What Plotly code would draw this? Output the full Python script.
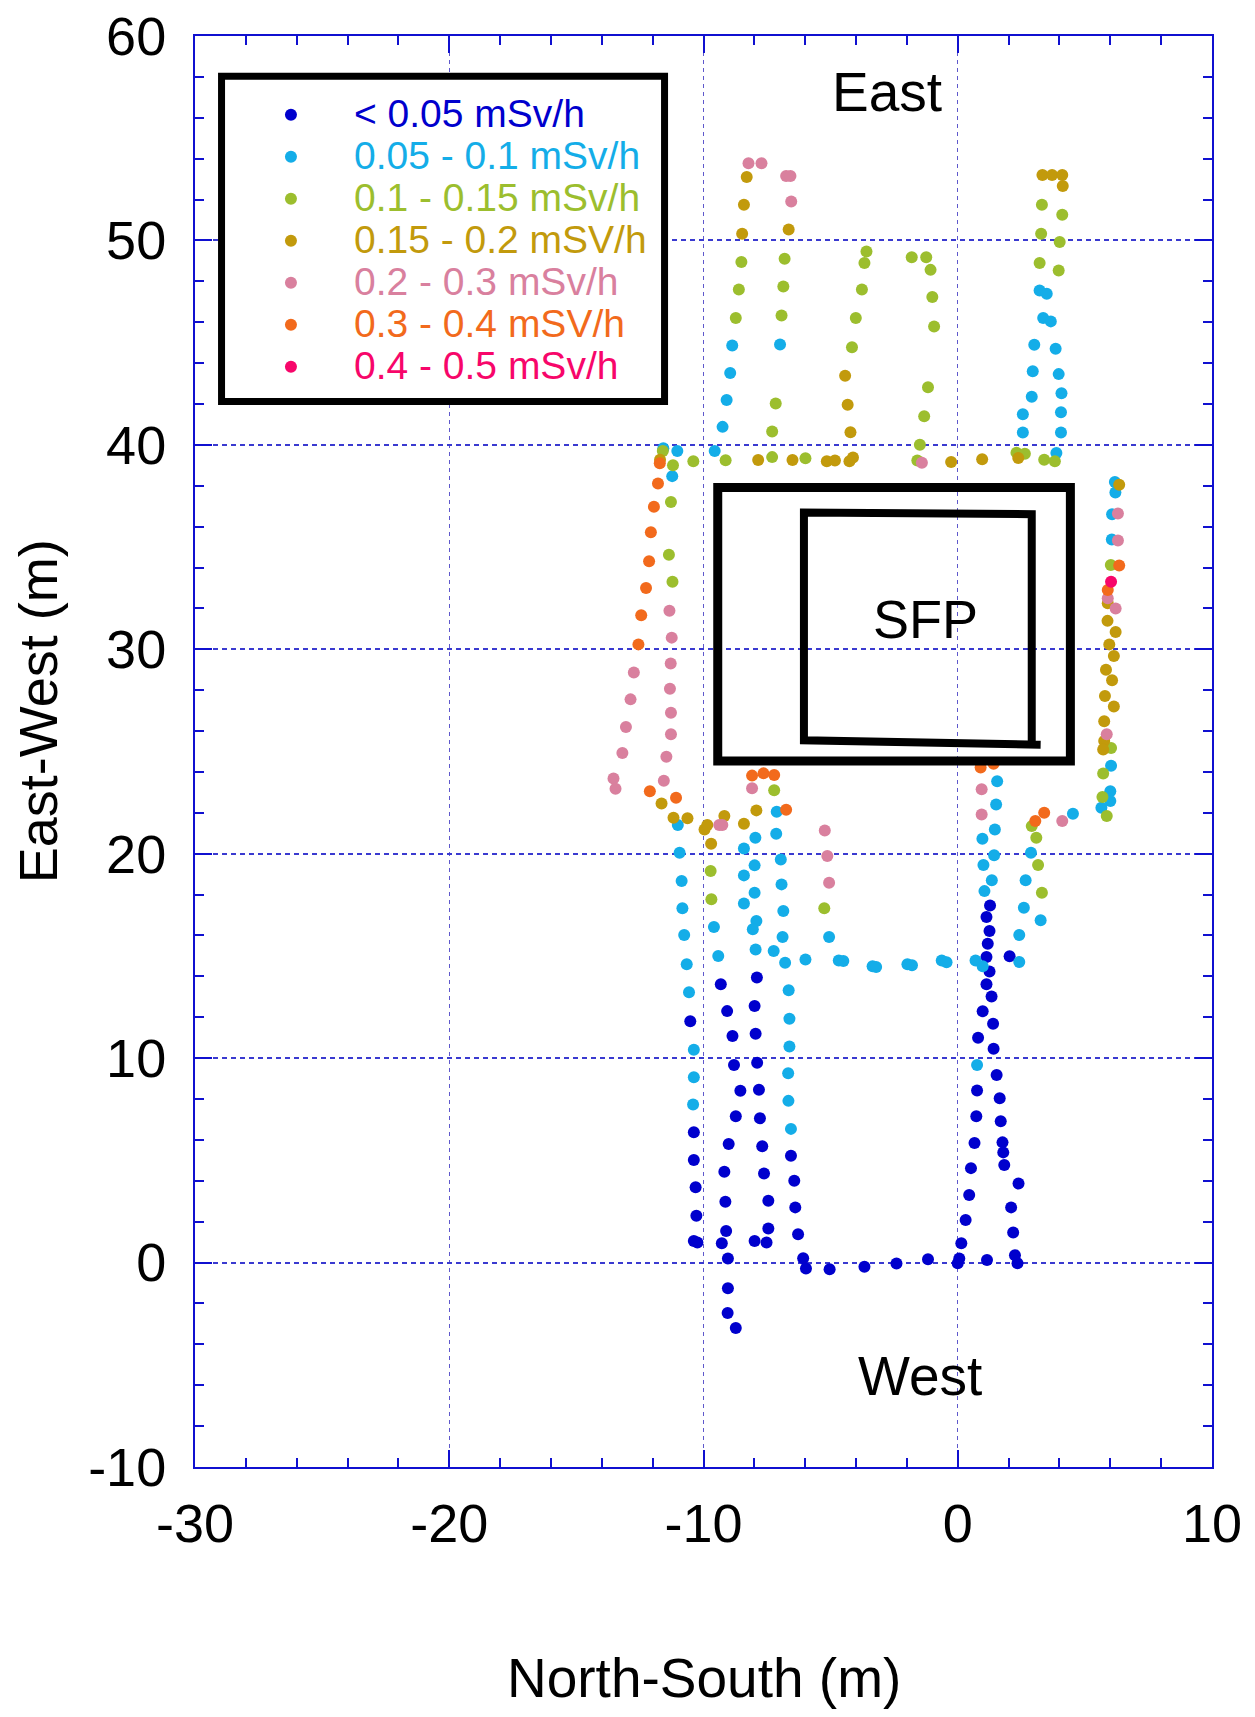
import plotly.graph_objects as go

# ---------------- data (metres) ----------------
CATEGORIES = ["< 0.05 mSv/h", "0.05 - 0.1 mSv/h", "0.1 - 0.15 mSv/h", "0.15 - 0.2 mSV/h",
              "0.2 - 0.3 mSv/h", "0.3 - 0.4 mSV/h", "0.4 - 0.5 mSv/h"]
COLORS = ["#0000CD", "#14ADE8", "#9CBE2E", "#C29A0C", "#D9809E", "#F26A1C", "#F7066A"]

# < 0.05 mSv/h
ns_lt005 = [-10.52, -10.38, -10.38, -10.31, -10.28, -10.38, -10.24,
            -9.32, -9.07, -8.86, -8.80, -8.55, -8.73, -9.01, -9.18, -9.14, -9.11, -9.28, -9.04, -9.04, -9.05, -8.73,
            -7.90, -7.99, -7.95, -7.89, -7.82, -7.78, -7.69, -7.62, -7.45, -7.45, -7.99, -7.52,
            -6.56, -6.43, -6.39, -6.28, -6.08, -5.97, -5.04, -3.67, -2.41, -1.17, 0.00, 0.06, 1.15, 2.25, 2.35,
            0.14, 0.31, 0.45, 0.52, 0.66, 0.73, 0.76, 0.80, 0.98, 1.13, 1.25,
            1.27, 1.13, 1.25, 1.18, 1.13, 2.04, 1.33, 1.39, 1.41, 1.53, 1.65, 1.69, 1.76, 1.79, 1.83, 2.39, 2.10, 2.18]
ew_lt005 = [11.80, 6.37, 5.02, 3.68, 2.29, 1.06, 0.98,
            13.62, 12.30, 11.08, 9.67, 8.41, 7.16, 5.80, 4.44, 2.97, 1.55, 0.95, 0.20, -1.26, -2.47, -3.20,
            13.95, 12.55, 11.19, 9.77, 8.45, 7.06, 5.69, 4.36, 3.02, 1.67, 1.06, 0.98,
            5.23, 4.00, 2.70, 1.39, 0.21, -0.29, -0.33, -0.20, -0.05, 0.16, -0.03, 0.20, 0.13, 0.36, -0.03,
            0.95, 2.08, 3.30, 4.62, 5.85, 7.16, 8.42, 11.00, 12.29, 13.62, 14.24,
            17.47, 16.90, 16.22, 15.60, 14.95, 14.98, 13.02, 11.68, 10.46, 9.18, 8.04, 6.91, 5.88, 5.39, 4.77, 3.87, 2.70, 1.47]

# 0.05 - 0.1 mSv/h
ns_005_01 = [-8.87, -8.95, -9.09, -9.25, -9.56, -6.99,
             3.22, 3.50, 3.36, 3.66, 3.01, 3.85, 2.95, 3.97, 2.91, 4.08, 2.56, 4.06, 2.56, 4.06, 3.88,
             -11.58, -11.03, -11.23,
             6.18, 6.20, 6.07, 6.06, 6.03, 6.00, 5.65, 6.00, 4.53,
             -11.01, -10.94, -10.86, -10.83, -10.76, -10.66, -10.57, -10.38, -10.38, -10.41,
             -9.59, -9.42,
             -7.12, -7.14, -7.96, -8.41, -6.96, -7.99, -8.41, -6.93, -7.99, -8.41, -6.86, -7.92, -8.06, -6.89,
             -7.95, -7.24, -6.79, -5.99, -6.65, -6.62, -6.62, -6.67, -6.66, -6.56,
             -5.06, -4.68, -4.50, -3.35, -3.21, -1.98, -1.80, -0.63, -0.44,
             1.55, 1.51, 1.46, 0.97, 1.43, 1.01, 1.34, 1.05, 0.70, 0.98, 2.42, 0.76,
             3.26, 2.42, 2.60, 2.67, 2.88]
ew_005_01 = [44.86, 43.52, 42.19, 40.88, 39.70, 44.91,
             47.55, 47.39, 46.20, 46.04, 44.90, 44.70, 43.60, 43.46, 42.35, 42.53, 41.50, 41.60, 40.60, 40.60, 39.60,
             39.84, 39.70, 38.47,
             38.18, 37.67, 36.60, 35.37, 24.30, 23.06, 22.25, 22.58, 21.96,
             21.40, 20.05, 18.66, 17.33, 16.02, 14.59, 13.22, 10.41, 9.07, 7.73,
             16.41, 15.00,
             22.05, 20.98, 20.78, 20.26, 19.72, 19.43, 18.94, 18.50, 18.09, 17.57, 17.20, 16.71, 16.30, 15.93,
             15.32, 15.24, 14.67, 14.82, 13.32, 11.93, 10.57, 9.26, 7.91, 6.54,
             15.93, 14.78, 14.75, 14.50, 14.46, 14.59, 14.54, 14.78, 14.69,
             23.55, 22.41, 21.19, 20.73, 19.92, 19.45, 18.70, 18.17, 14.78, 14.50, 14.70, 9.67,
             16.74, 16.02, 17.36, 18.70, 20.05]

# 0.1 - 0.15 mSv/h
ns_01_015 = [-8.51, -8.61, -8.73,
             -6.81, -6.86, -6.93, -7.16, -7.30, -7.30, -9.13, -5.99, -10.40, -11.60, -11.20,
             -3.59, -3.67, -3.77, -4.01, -4.16,
             -1.81, -1.24, -1.07, -1.00, -0.93, -1.17, -1.32, -1.49, -1.59,
             3.31, 4.11, 3.28, 4.01, 3.22, 3.97, 2.31, 2.64, 3.40, 3.82,
             -11.28, -11.36, -11.22,
             6.02, 6.03, 5.72, 5.69, 5.86,
             -7.22, -9.72, -9.69, -5.25, 3.31, 3.16, 3.09, 2.91]
ew_01_015 = [48.94, 47.60, 46.20,
             49.10, 47.75, 46.33, 42.02, 40.65, 39.40, 39.25, 39.35, 39.20, 39.70, 39.00,
             49.46, 48.90, 47.60, 46.20, 44.78,
             49.18, 49.18, 48.56, 47.23, 45.79, 42.82, 41.40, 40.00, 39.23,
             51.75, 51.26, 50.33, 49.92, 48.90, 48.53, 39.62, 39.57, 39.27, 39.20,
             37.20, 34.62, 33.30,
             34.12, 25.17, 23.92, 22.77, 21.84,
             23.10, 19.15, 17.77, 17.33, 18.09, 19.45, 20.78, 21.35]

# 0.15 - 0.2 mSv/h
ns_015_02 = [-8.30, -8.41, -8.48, -6.65, -7.85, -6.50, -5.15, -4.83, -4.26, -4.12, -4.43, -4.33, -4.22,
             -0.26, 0.96, 2.38,
             3.33, 3.71, 4.11, 4.13,
             -11.71,
             6.35, 5.90, 5.89, 6.21, 5.96, 6.14, 5.83, 6.07, 5.79, 6.14, 5.76, 5.76, 5.72,
             -11.65, -11.18, -10.63, -9.96, -9.85, -9.18, -9.70, -8.41, -7.92]
ew_015_02 = [53.10, 51.75, 50.33, 50.54, 39.26, 39.26, 39.20, 39.24, 39.20, 39.38, 43.38, 41.96, 40.62,
             39.16, 39.30, 39.36,
             53.20, 53.20, 53.20, 52.66,
             39.27,
             38.05, 32.25, 31.39, 30.85, 30.24, 29.67, 29.00, 28.48, 27.72, 27.20, 26.48, 25.51, 25.10,
             22.46, 21.76, 21.73, 21.19, 21.40, 21.84, 20.49, 21.47, 22.12]

# 0.2 - 0.3 mSv/h
ns_02_03 = [-8.23, -7.72, -6.75, -6.58, -6.55, -1.41,
            -12.74, -12.87, -13.05, -13.19, -13.54, -13.46,
            -11.34, -11.25, -11.29, -11.32, -11.28, -11.28, -11.46, -11.56,
            -9.38, -9.26, -8.09,
            -5.23, -5.13, -5.06,
            0.94, 0.94, 4.11,
            6.30, 6.30, 5.90, 6.21, 5.86]
ew_02_03 = [53.78, 53.78, 53.15, 53.15, 51.90, 39.12,
            28.86, 27.55, 26.20, 24.93, 23.68, 23.18,
            31.88, 30.57, 29.30, 28.07, 26.90, 25.84, 24.74, 23.57,
            21.40, 21.40, 23.20,
            21.14, 19.89, 18.58,
            23.15, 21.92, 21.60,
            36.64, 35.32, 32.50, 32.00, 25.84]

# 0.3 - 0.4 mSv/h
ns_03_04 = [-11.72, -11.79, -11.95, -12.07, -12.14, -12.26, -12.45, -12.56,
            -12.11, -11.08, -8.09, -7.64, -7.22, -6.75,
            0.90, 1.41, 3.05, 3.40, 6.35, 5.90]
ew_03_04 = [39.10, 38.11, 36.97, 35.73, 34.31, 33.00, 31.66, 30.24,
            23.06, 22.74, 23.82, 23.93, 23.85, 22.15,
            24.22, 24.40, 21.60, 22.00, 34.10, 32.90]

# 0.4 - 0.5 mSv/h
ns_04_05 = [6.03]
ew_04_05 = [33.30]

SERIES_NS = [ns_lt005, ns_005_01, ns_01_015, ns_015_02, ns_02_03, ns_03_04, ns_04_05]
SERIES_EW = [ew_lt005, ew_005_01, ew_01_015, ew_015_02, ew_02_03, ew_03_04, ew_04_05]

# spent fuel pool outlines (data coords)
SFP_OUTER = dict(x0=-9.44, x1=4.43, y0=24.53, y1=37.91)
SFP_INNER_X = [3.26, -6.05, -6.05, 2.91, 2.91]
SFP_INNER_Y = [25.33, 25.55, 36.69, 36.61, 25.36]

X_TICKS = [-30, -20, -10, 0, 10]
X_TICKTEXT = ["-30", "-20", "-10", "0", "10"]
Y_TICKS = [-10, 0, 10, 20, 30, 40, 50, 60]
Y_TICKTEXT = ["-10", "0", "10", "20", "30", "40", "50", "60"]

FONT = "Liberation Sans, Arial, sans-serif"
AXIS_BLUE = "#1010D0"

fig = go.Figure()
for name, col, xs, ys in zip(CATEGORIES, COLORS, SERIES_NS, SERIES_EW):
    fig.add_trace(go.Scatter(
        x=xs, y=ys, mode="markers",
        marker=dict(color=col, size=12, line=dict(width=0)),
        name=f'<span style="color:{col};font-size:39px">{name}</span>',
    ))

# legend frame (white fill hides the grid behind the legend)
fig.add_shape(type="rect", xref="paper", yref="paper", x0=0.0261, x1=0.4617, y0=0.7446, y1=0.9719,
              line=dict(color="black", width=7), fillcolor="white", layer="above")

fig.add_shape(type="rect", xref="x", yref="y", line=dict(color="black", width=9),
              fillcolor="rgba(0,0,0,0)", layer="above", **SFP_OUTER)
path = "M " + " L ".join(f"{x},{y}" for x, y in zip(SFP_INNER_X, SFP_INNER_Y))
fig.add_shape(type="path", xref="x", yref="y", path=path,
              line=dict(color="black", width=8), layer="above")

fig.add_annotation(x=-2.79, y=57.25, xref="x", yref="y", text="East", showarrow=False,
                   font=dict(family=FONT, size=55, color="black"))
fig.add_annotation(x=-1.49, y=-5.55, xref="x", yref="y", text="West", showarrow=False,
                   font=dict(family=FONT, size=55, color="black"))
fig.add_annotation(x=-1.28, y=31.5, xref="x", yref="y", text="SFP", showarrow=False,
                   font=dict(family=FONT, size=54, color="black"))

fig.add_annotation(x=0.5, y=-0.1475, xref="paper", yref="paper", text="North-South (m)",
                   showarrow=False, xanchor="center", yanchor="middle",
                   font=dict(family=FONT, size=55, color="black"))
fig.add_annotation(x=-0.1535, y=0.528, xref="paper", yref="paper", text="East-West (m)",
                   showarrow=False, textangle=-90, xanchor="center", yanchor="middle",
                   font=dict(family=FONT, size=54, color="black"))

axis_common = dict(
    showline=True, linecolor=AXIS_BLUE, linewidth=2, mirror="ticks",
    ticks="inside", ticklen=17, tickwidth=2, tickcolor=AXIS_BLUE,
    showgrid=True, zeroline=False, ticklabeloverflow="allow", automargin=False,
    tickfont=dict(family=FONT, size=54, color="black"),
    minor=dict(ticks="inside", ticklen=9, tickwidth=1.5, tickcolor=AXIS_BLUE, dtick=2, showgrid=False),
)
fig.update_xaxes(range=[-30, 10], tickvals=X_TICKS, ticktext=X_TICKTEXT, ticklabelstandoff=8,
                 gridcolor="#5F58CC", gridwidth=1.3, griddash="4px,4px", **axis_common)
fig.update_yaxes(range=[-10, 60], tickvals=Y_TICKS, ticktext=Y_TICKTEXT, ticklabelstandoff=16,
                 gridcolor="#3A3AD0", gridwidth=1.8, griddash="5px,4px", **axis_common)

fig.update_layout(
    width=1247, height=1709,
    margin=dict(l=187, r=43, t=28, b=250, autoexpand=False),
    paper_bgcolor="white", plot_bgcolor="white",
    font=dict(family=FONT, color="black"),
    showlegend=True,
    legend=dict(x=0.0324, y=0.9631, xanchor="left", yanchor="top",
                bgcolor="rgba(0,0,0,0)", borderwidth=0,
                font=dict(family=FONT, size=30),
                itemwidth=116, itemsizing="trace"),
)

fig.write_html("out.html")
